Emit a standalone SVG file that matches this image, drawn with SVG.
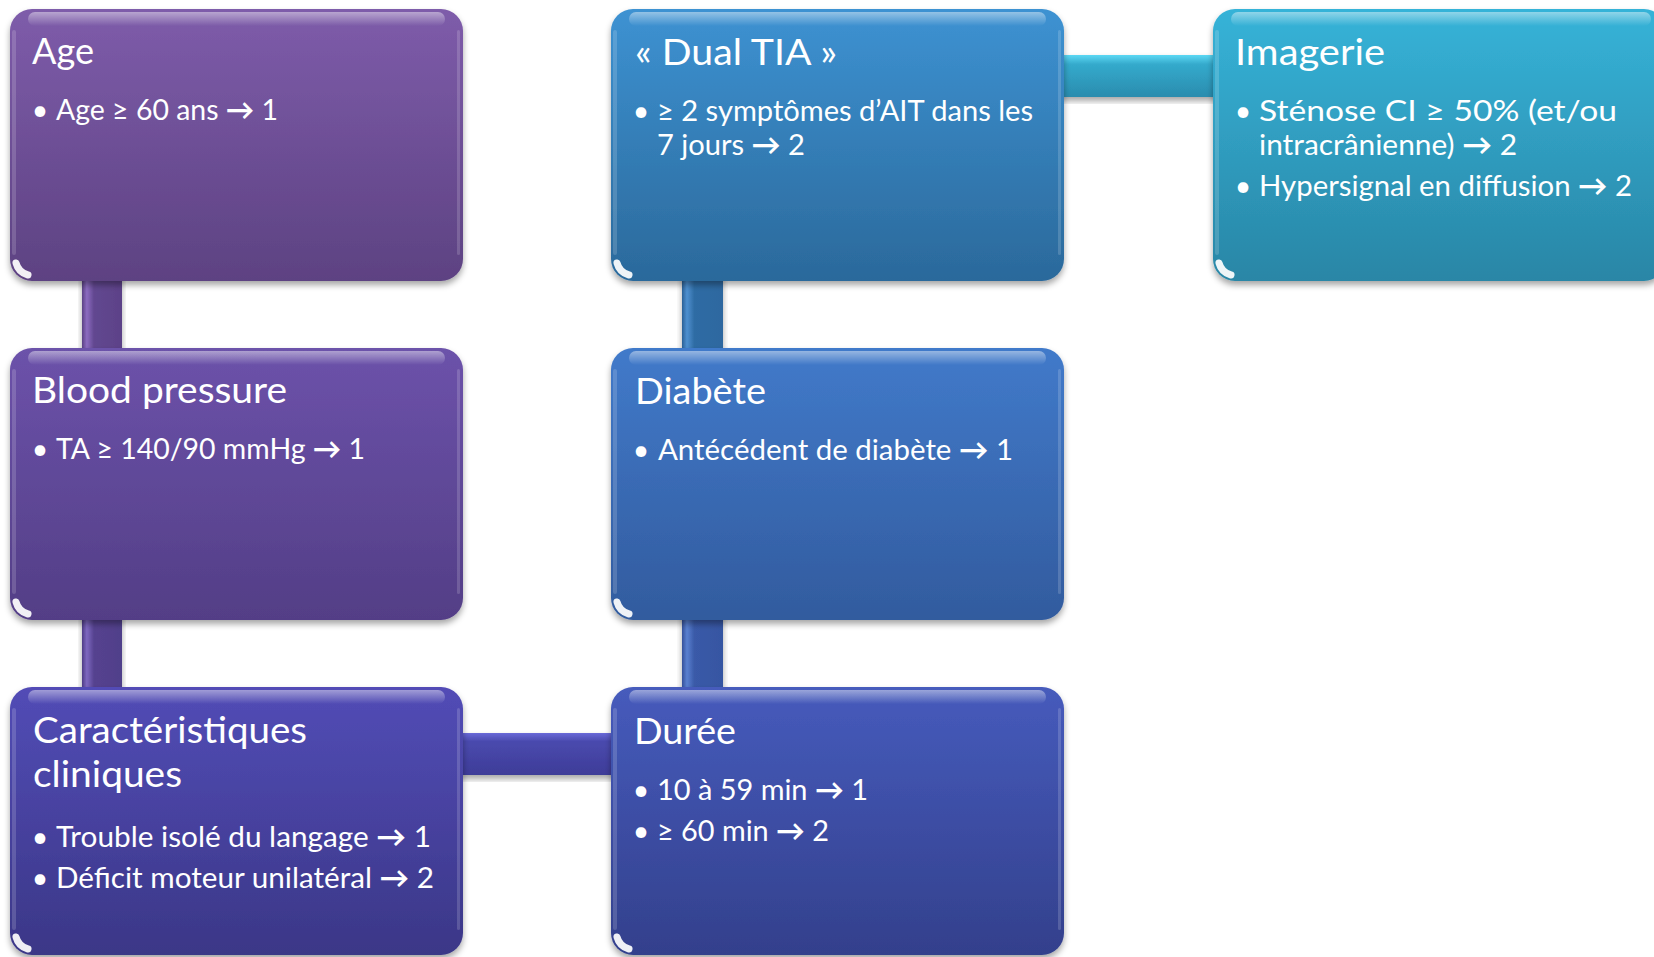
<svg xmlns="http://www.w3.org/2000/svg" width="1654" height="957" viewBox="0 0 1654 957">
<style>
.t{font-family:Lato,"Open Sans","Liberation Sans",sans-serif;fill:#fff;font-size:36px}
.b{font-family:Lato,"Open Sans","Liberation Sans",sans-serif;fill:#fff;font-size:28.5px}
.a{font-weight:bold}
.hl{fill:url(#hlTop)}
.glare{fill:none;stroke:#fff;stroke-width:7;stroke-linecap:round;opacity:.92;filter:url(#bl)}
.edge{fill:#fff;opacity:.16}
</style>
<defs>
<filter id="sh" x="-10%" y="-10%" width="120%" height="125%">
<feDropShadow dx="0" dy="4" stdDeviation="3" flood-color="#000" flood-opacity="0.35"/>
</filter>
<filter id="bl" x="-1" y="-1" width="3" height="3"><feGaussianBlur stdDeviation="0.6"/></filter>
<linearGradient id="gAge" x1="0" y1="0" x2="0" y2="1"><stop offset="0" stop-color="#7E5CAA"/><stop offset="1" stop-color="#5D4282"/></linearGradient>
<linearGradient id="gBP" x1="0" y1="0" x2="0" y2="1"><stop offset="0" stop-color="#6C52AA"/><stop offset="1" stop-color="#533E86"/></linearGradient>
<linearGradient id="gCar" x1="0" y1="0" x2="0" y2="1"><stop offset="0" stop-color="#524CB6"/><stop offset="1" stop-color="#3B3787"/></linearGradient>
<linearGradient id="gDual" x1="0" y1="0" x2="0" y2="1"><stop offset="0" stop-color="#3D92D2"/><stop offset="1" stop-color="#2B699B"/></linearGradient>
<linearGradient id="gDia" x1="0" y1="0" x2="0" y2="1"><stop offset="0" stop-color="#417ACA"/><stop offset="1" stop-color="#325B9E"/></linearGradient>
<linearGradient id="gDur" x1="0" y1="0" x2="0" y2="1"><stop offset="0" stop-color="#465BBC"/><stop offset="1" stop-color="#33408C"/></linearGradient>
<linearGradient id="gImg" x1="0" y1="0" x2="0" y2="1"><stop offset="0" stop-color="#36B3D8"/><stop offset="1" stop-color="#2986A6"/></linearGradient>
<linearGradient id="hlTop" x1="0" y1="0" x2="0" y2="1"><stop offset="0" stop-color="#fff" stop-opacity="0.45"/><stop offset="1" stop-color="#fff" stop-opacity="0"/></linearGradient>
<linearGradient id="cV1" x1="0" y1="0" x2="1" y2="0"><stop offset="0" stop-color="#5A4184"/><stop offset="0.12" stop-color="#8C6CC0"/><stop offset="0.3" stop-color="#624790"/><stop offset="1" stop-color="#5C4288"/></linearGradient>
<linearGradient id="cV2" x1="0" y1="0" x2="1" y2="0"><stop offset="0" stop-color="#4E3C86"/><stop offset="0.12" stop-color="#7E68C0"/><stop offset="0.3" stop-color="#55428F"/><stop offset="1" stop-color="#50408A"/></linearGradient>
<linearGradient id="cV3" x1="0" y1="0" x2="1" y2="0"><stop offset="0" stop-color="#34509A"/><stop offset="0.12" stop-color="#5A80D0"/><stop offset="0.3" stop-color="#3A5AA8"/><stop offset="1" stop-color="#3656A2"/></linearGradient>
<linearGradient id="cV4" x1="0" y1="0" x2="1" y2="0"><stop offset="0" stop-color="#2A6096"/><stop offset="0.12" stop-color="#4E90D0"/><stop offset="0.3" stop-color="#2F6CA4"/><stop offset="1" stop-color="#2D68A0"/></linearGradient>
<linearGradient id="cH1" x1="0" y1="0" x2="0" y2="1"><stop offset="0" stop-color="#6A6AD8"/><stop offset="0.2" stop-color="#4A4AAE"/><stop offset="1" stop-color="#3E3C98"/></linearGradient>
<linearGradient id="cH2" x1="0" y1="0" x2="0" y2="1"><stop offset="0" stop-color="#5CD8F4"/><stop offset="0.22" stop-color="#34AACC"/><stop offset="1" stop-color="#2A8CAE"/></linearGradient>
</defs>
<rect width="1654" height="957" fill="#fff"/>

<g id="connectors">
<rect x="82" y="270" width="40" height="90" fill="url(#cV1)" filter="url(#sh)"/>
<rect x="82" y="610" width="40" height="90" fill="url(#cV2)" filter="url(#sh)"/>
<rect x="450" y="733" width="175" height="42" fill="url(#cH1)" filter="url(#sh)"/>
<rect x="682" y="610" width="41" height="90" fill="url(#cV3)" filter="url(#sh)"/>
<rect x="682" y="270" width="41" height="90" fill="url(#cV4)" filter="url(#sh)"/>
<rect x="1050" y="55" width="175" height="42" fill="url(#cH2)" filter="url(#sh)"/>
</g>

<g id="node-age">
<rect x="10" y="9" width="453" height="272" rx="22" fill="url(#gAge)" filter="url(#sh)"/>
<rect class="hl" x="28" y="12" width="417" height="14" rx="7"/>
<rect class="edge" x="12" y="30" width="4" height="225" rx="2"/>
<rect class="edge" x="457" y="30" width="3" height="225" rx="1.5"/>
<path class="glare" d="M16,263 A17,17 0 0 0 28,275"/>
<text class="t" x="32" y="64" textLength="62" lengthAdjust="spacingAndGlyphs">Age</text>
<text class="b" x="40" y="120" text-anchor="middle">•</text>
<text class="b" x="56" y="120" textLength="222" lengthAdjust="spacingAndGlyphs">Age ≥ 60 ans <tspan class="a">→</tspan> 1</text>
</g>

<g id="node-bp">
<rect x="10" y="348" width="453" height="272" rx="22" fill="url(#gBP)" filter="url(#sh)"/>
<rect class="hl" x="28" y="351" width="417" height="14" rx="7"/>
<rect class="edge" x="12" y="369" width="4" height="225" rx="2"/>
<rect class="edge" x="457" y="369" width="3" height="225" rx="1.5"/>
<path class="glare" d="M16,602 A17,17 0 0 0 28,614"/>
<text class="t" x="32" y="403" textLength="255" lengthAdjust="spacingAndGlyphs">Blood pressure</text>
<text class="b" x="40" y="459" text-anchor="middle">•</text>
<text class="b" x="56" y="459" textLength="309" lengthAdjust="spacingAndGlyphs">TA ≥ 140/90 mmHg <tspan class="a">→</tspan> 1</text>
</g>

<g id="node-car">
<rect x="10" y="687" width="453" height="268" rx="22" fill="url(#gCar)" filter="url(#sh)"/>
<rect class="hl" x="28" y="690" width="417" height="14" rx="7"/>
<rect class="edge" x="12" y="708" width="4" height="222" rx="2"/>
<rect class="edge" x="457" y="708" width="3" height="222" rx="1.5"/>
<path class="glare" d="M16,937 A17,17 0 0 0 28,949"/>
<text class="t" x="33" y="743" textLength="274" lengthAdjust="spacingAndGlyphs">Caractéristiques</text>
<text class="t" x="33" y="787" textLength="149" lengthAdjust="spacingAndGlyphs">cliniques</text>
<text class="b" x="40" y="847" text-anchor="middle">•</text>
<text class="b" x="56" y="847" textLength="375" lengthAdjust="spacingAndGlyphs">Trouble isolé du langage <tspan class="a">→</tspan> 1</text>
<text class="b" x="40" y="888" text-anchor="middle">•</text>
<text class="b" x="56" y="888" textLength="378" lengthAdjust="spacingAndGlyphs">Déficit moteur unilatéral <tspan class="a">→</tspan> 2</text>
</g>

<g id="node-dual">
<rect x="611" y="9" width="453" height="272" rx="22" fill="url(#gDual)" filter="url(#sh)"/>
<rect class="hl" x="629" y="12" width="417" height="14" rx="7"/>
<rect class="edge" x="613" y="30" width="4" height="225" rx="2"/>
<rect class="edge" x="1058" y="30" width="3" height="225" rx="1.5"/>
<path class="glare" d="M617,263 A17,17 0 0 0 629,275"/>
<text class="t" x="635" y="65" textLength="202" lengthAdjust="spacingAndGlyphs">« Dual TIA »</text>
<text class="b" x="641" y="121" text-anchor="middle">•</text>
<text class="b" x="657" y="121" textLength="376" lengthAdjust="spacingAndGlyphs">≥ 2 symptômes d’AIT dans les</text>
<text class="b" x="657" y="155" textLength="148" lengthAdjust="spacingAndGlyphs">7 jours <tspan class="a">→</tspan> 2</text>
</g>

<g id="node-diabete">
<rect x="611" y="348" width="453" height="272" rx="22" fill="url(#gDia)" filter="url(#sh)"/>
<rect class="hl" x="629" y="351" width="417" height="14" rx="7"/>
<rect class="edge" x="613" y="369" width="4" height="225" rx="2"/>
<rect class="edge" x="1058" y="369" width="3" height="225" rx="1.5"/>
<path class="glare" d="M617,602 A17,17 0 0 0 629,614"/>
<text class="t" x="635" y="404" textLength="131" lengthAdjust="spacingAndGlyphs">Diabète</text>
<text class="b" x="641" y="460" text-anchor="middle">•</text>
<text class="b" x="658" y="460" textLength="355" lengthAdjust="spacingAndGlyphs">Antécédent de diabète <tspan class="a">→</tspan> 1</text>
</g>

<g id="node-duree">
<rect x="611" y="687" width="453" height="268" rx="22" fill="url(#gDur)" filter="url(#sh)"/>
<rect class="hl" x="629" y="690" width="417" height="14" rx="7"/>
<rect class="edge" x="613" y="708" width="4" height="222" rx="2"/>
<rect class="edge" x="1058" y="708" width="3" height="222" rx="1.5"/>
<path class="glare" d="M617,937 A17,17 0 0 0 629,949"/>
<text class="t" x="634" y="744" textLength="102" lengthAdjust="spacingAndGlyphs">Durée</text>
<text class="b" x="641" y="800" text-anchor="middle">•</text>
<text class="b" x="657" y="800" textLength="211" lengthAdjust="spacingAndGlyphs">10 à 59 min <tspan class="a">→</tspan> 1</text>
<text class="b" x="641" y="841" text-anchor="middle">•</text>
<text class="b" x="657" y="841" textLength="172" lengthAdjust="spacingAndGlyphs">≥ 60 min <tspan class="a">→</tspan> 2</text>
</g>

<g id="node-imagerie">
<rect x="1213" y="9" width="453" height="272" rx="22" fill="url(#gImg)" filter="url(#sh)"/>
<rect class="hl" x="1231" y="12" width="420" height="14" rx="7"/>
<rect class="edge" x="1215" y="30" width="4" height="225" rx="2"/>
<path class="glare" d="M1219,263 A17,17 0 0 0 1231,275"/>
<text class="t" x="1235" y="65" textLength="150" lengthAdjust="spacingAndGlyphs">Imagerie</text>
<text class="b" x="1243" y="121" text-anchor="middle">•</text>
<text class="b" x="1259" y="121" textLength="358" lengthAdjust="spacingAndGlyphs">Sténose CI ≥ 50% (et/ou</text>
<text class="b" x="1259" y="155" textLength="258" lengthAdjust="spacingAndGlyphs">intracrânienne) <tspan class="a">→</tspan> 2</text>
<text class="b" x="1243" y="196" text-anchor="middle">•</text>
<text class="b" x="1259" y="196" textLength="373" lengthAdjust="spacingAndGlyphs">Hypersignal en diffusion <tspan class="a">→</tspan> 2</text>
</g>
</svg>
